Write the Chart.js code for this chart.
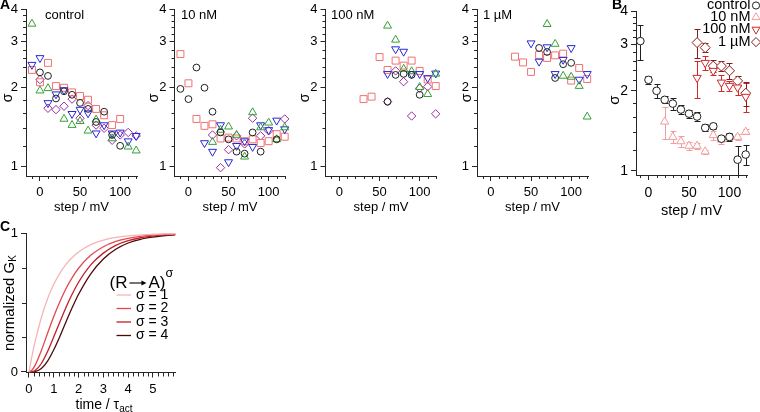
<!DOCTYPE html>
<html>
<head>
<meta charset="utf-8">
<script src="https://cdn.jsdelivr.net/npm/chart.js"></script>
<style>
html,body{margin:0;padding:0;background:#fff;}
#fig{position:relative;width:760px;height:412px;overflow:hidden;background:#fff;}
#fig canvas{position:absolute;left:0;top:0;}
</style>
</head>
<body>
<div id="fig">
<canvas id="pA1" width="760" height="412"></canvas>
<canvas id="pA2" width="760" height="412"></canvas>
<canvas id="pA3" width="760" height="412"></canvas>
<canvas id="pA4" width="760" height="412"></canvas>
<canvas id="pB" width="760" height="412"></canvas>
<canvas id="pC" width="760" height="412"></canvas>
</div>
<script>
// ---------------- DATA ----------------
const steps = [-10, 0, 10, 20, 30, 40, 50, 60, 70, 80, 90, 100, 110, 120];
const sigmaTicks = [1, 2, 3, 4];
const stepTicks = [0, 50, 100];
const panelTitles = ['control', '10 nM', '100 nM', '1 µM'];

// A: control (individual cells)
const ctrlCircle  = [null, 2.29, 2.22, 1.82, 1.94, 1.88, 1.75, 1.66, 1.48, 1.62, 1.32, 1.20, null, null];
const ctrlTriUp   = [3.51, 1.95, 1.99, null, 1.52, 1.44, 1.49, 1.37, 1.51, null, 1.28, null, 1.19, 1.15];
const ctrlTriDown = [2.45, 2.60, 1.75, 1.89, 1.96, 1.59, 1.65, 1.60, 1.34, 1.44, 1.34, 1.35, 1.25, 1.31];
const ctrlSquare  = [2.34, 2.10, 2.49, 2.03, 2.00, 1.92, 1.86, 1.80, 1.66, 1.57, 1.44, 1.52, null, null];
const ctrlDiamond = [null, 2.15, 1.67, 1.65, 1.70, 1.81, 1.53, 1.71, 1.44, 1.40, 1.26, 1.32, 1.35, 1.31];

// A: 10 nM
const nM10Circle  = [1.98, 1.81, 2.39, 2.00, 1.62, 1.35, 1.27, 1.14, 1.12, 1.35, 1.14, null, 1.27, null];
const nM10Square  = [2.69, 2.08, 1.52, 1.43, 1.45, 1.28, 1.29, 1.28, 1.25, 1.27, 1.23, 1.25, 1.33, 1.30];
const nM10TriUp   = [null, null, null, null, 1.24, 1.38, 1.42, 1.32, 1.09, 1.61, 1.41, 1.47, 1.27, 1.41];
const nM10TriDown = [null, null, null, 1.23, 1.14, 1.44, 1.04, 1.20, 1.25, 1.19, 1.44, 1.38, 1.50, 1.39];
const nM10Diamond = [null, null, null, null, 1.32, 0.99, 1.16, 1.31, 1.22, 1.53, 1.31, 1.37, null, 1.52];

// A: 100 nM
const nM100Circle  = [null, null, null, null, null, null, null, 1.77, 2.24, 2.26, 2.24, 1.88, null, null];
const nM100Square  = [null, null, null, null, 1.81, 1.85, 2.62, 2.34, 2.54, 2.43, 2.54, 2.32, 2.15, 2.03];
const nM100TriUp   = [null, null, null, null, null, null, null, 3.45, 3.05, 2.36, 2.31, 2.01, 1.89, 2.26];
const nM100TriDown = [null, null, null, null, null, null, null, 2.26, 2.81, 2.75, 2.26, 2.26, 2.18, 2.27];
const nM100Diamond = [null, null, null, null, null, null, null, 1.77, 2.32, 2.11, 1.56, 1.99, 2.02, 1.59];

// A: 1 µM
const uM1Circle  = [null, null, null, null, null, null, null, 2.84, 2.74, 2.18, 2.46, 2.49, null, null];
const uM1Square  = [null, null, null, null, 2.63, 2.50, 2.30, 2.67, 2.60, 2.66, 2.70, 2.13, 2.38, 2.16];
const uM1TriUp   = [null, null, null, null, null, null, null, null, 3.50, 2.94, 2.22, 2.20, 2.03, 1.55];
const uM1TriDown = [null, null, null, null, null, null, 2.96, 2.52, 2.86, 2.26, 2.56, 2.84, 2.15, 2.26];

// B: mean ± SEM
const bCtrlMean = [3.08, 2.20, 2.00, 1.85, 1.79, 1.70, 1.64, 1.60, 1.45, 1.47, 1.32, 1.34, 1.10, 1.15];
const bCtrlSem  = [0.47, 0.07, 0.12, 0.055, 0.095, 0.065, 0.055, 0.065, 0.045, 0.04, 0.025, 0.045, 0.135, 0.10];
const b10Mean   = [null, null, null, 1.53, 1.34, 1.29, 1.24, 1.24, 1.18, 1.36, 1.31, 1.34, 1.34, 1.40];
const b10Sem    = [null, null, null, 0.21, 0.07, 0.06, 0.04, 0.035, 0.02, 0.05, 0.055, 0.04, 0.04, 0.03];
const b100Mean  = [null, null, null, null, null, null, null, 2.24, 2.55, 2.38, 2.15, 2.09, 2.06, 1.90];
const b100Sem   = [null, null, null, null, null, null, null, 0.36, 0.15, 0.085, 0.15, 0.09, 0.125, 0.24];
const b1uMean   = [null, null, null, null, null, null, null, 3.04, 2.91, 2.48, 2.48, 2.38, 2.18, 1.96];
const b1uSem    = [null, null, null, null, null, null, null, 0.39, 0.11, 0.125, 0.11, 0.17, 0.095, 0.20];

// C: normalized G_K vs time / tau_act
const tAct    = [0, 0.125, 0.25, 0.5, 0.75, 1, 1.25, 1.5, 1.75, 2, 2.5, 3, 3.5, 4, 4.5, 5, 5.5, 5.9];
const gSigma1 = [0, 0.118, 0.221, 0.393, 0.528, 0.632, 0.713, 0.777, 0.826, 0.865, 0.918, 0.950, 0.970, 0.982, 0.989, 0.993, 0.996, 0.997];
const gSigma2 = [0, 0.014, 0.049, 0.155, 0.279, 0.400, 0.508, 0.604, 0.682, 0.748, 0.843, 0.903, 0.941, 0.964, 0.978, 0.987, 0.992, 0.995];
const gSigma3 = [0, 0.002, 0.011, 0.061, 0.147, 0.253, 0.362, 0.469, 0.564, 0.647, 0.774, 0.857, 0.913, 0.947, 0.968, 0.980, 0.988, 0.992];
const gSigma4 = [0, 0.000, 0.002, 0.024, 0.078, 0.160, 0.258, 0.364, 0.466, 0.560, 0.710, 0.815, 0.885, 0.930, 0.957, 0.973, 0.984, 0.989];
const cTimeTicks = [0, 1, 2, 3, 4, 5];
const cGTicks = [0, 1];
const sigmaLabels = ['σ = 1', 'σ = 2', 'σ = 3', 'σ = 4'];

// ---------------- STYLE ----------------
const W = 760, H = 412;
const AXIS = '#262626';
const FONT = "'Liberation Sans', Arial, Helvetica, sans-serif";
const f = (s, w) => (w ? w + ' ' : '') + s + 'px ' + FONT;
Chart.defaults.font.family = FONT;
Chart.defaults.color = '#000';

const COL = {
  black: '#1f1f1f', green: '#34a034', blue: '#2727d8', salmon: '#ef7272', purple: '#9b2e9b',
  ctrl: '#1f1f1f', nM10: '#f29c9c', nM100: '#d32828', uM1: '#8c1a1a',
  s1: '#f6b4b4', s2: '#e4484e', s3: '#c21e28', s4: '#4a0b0b'
};

const MARK = {
  circle:  {pointStyle: 'circle',   pointRadius: 3.4, pointRotation: 0},
  up:      {pointStyle: 'triangle', pointRadius: 4.6, pointRotation: 0},
  down:    {pointStyle: 'triangle', pointRadius: 4.6, pointRotation: 180},
  square:  {pointStyle: 'rect',     pointRadius: 4.9, pointRotation: 0},
  diamond: {pointStyle: 'rectRot',  pointRadius: 4.2, pointRotation: 0}
};

function pts(xs, ys, errs) {
  const out = [];
  xs.forEach((x, i) => {
    if (ys[i] != null) out.push(errs ? {x: x, y: ys[i], e: errs[i]} : {x: x, y: ys[i]});
  });
  return out;
}

function cellDs(label, ys, kind, color) {
  return Object.assign({
    label: label, data: pts(steps, ys), showLine: false, clip: false,
    borderColor: color, backgroundColor: 'rgba(0,0,0,0)',
    pointBorderColor: color, pointBackgroundColor: 'rgba(0,0,0,0)', pointBorderWidth: 1
  }, MARK[kind]);
}

function meanDs(label, ys, errs, kind, color, r) {
  return Object.assign({
    label: label, data: pts(steps, ys, errs), showLine: false, clip: false,
    borderColor: color, backgroundColor: '#fff',
    pointBorderColor: color, pointBackgroundColor: '#fff', pointBorderWidth: 1
  }, MARK[kind], {pointRadius: r});
}

// ---------------- PLUGINS ----------------
function minorTicksPlugin(mx, my, len) {
  return {
    id: 'minorTicks',
    afterDraw(chart) {
      const ctx = chart.ctx, xs = chart.scales.x, ys = chart.scales.y;
      ctx.save();
      ctx.strokeStyle = AXIS; ctx.lineWidth = 1;
      ctx.beginPath();
      (mx || []).forEach(v => {
        const p = Math.round(xs.getPixelForValue(v)) + 0.5;
        ctx.moveTo(p, ys.bottom); ctx.lineTo(p, ys.bottom + len);
      });
      (my || []).forEach(v => {
        const p = Math.round(ys.getPixelForValue(v)) + 0.5;
        ctx.moveTo(xs.left, p); ctx.lineTo(xs.left - len, p);
      });
      ctx.stroke();
      ctx.restore();
    }
  };
}

const errorBarsPlugin = {
  id: 'errorBars',
  beforeDatasetsDraw(chart) {
    const ctx = chart.ctx, xs = chart.scales.x, ys = chart.scales.y;
    chart.data.datasets.forEach(ds => {
      ctx.save();
      ctx.strokeStyle = ds.borderColor; ctx.lineWidth = 1;
      ctx.beginPath();
      ds.data.forEach(p => {
        if (p.e == null) return;
        const px = Math.round(xs.getPixelForValue(p.x)) + 0.5;
        const yt = Math.round(ys.getPixelForValue(p.y + p.e)) + 0.5;
        const yb = Math.round(ys.getPixelForValue(p.y - p.e)) + 0.5;
        ctx.moveTo(px, yt); ctx.lineTo(px, yb);
        ctx.moveTo(px - 3, yt); ctx.lineTo(px + 3, yt);
        ctx.moveTo(px - 3, yb); ctx.lineTo(px + 3, yb);
      });
      ctx.stroke();
      ctx.restore();
    });
  }
};

function drawMarker(ctx, kind, x, y, r, color) {
  ctx.save();
  ctx.strokeStyle = color; ctx.fillStyle = '#fff'; ctx.lineWidth = 1;
  ctx.beginPath();
  if (kind === 'circle') {
    ctx.arc(x, y, r, 0, Math.PI * 2);
  } else if (kind === 'up' || kind === 'down') {
    const s = kind === 'up' ? 1 : -1;
    for (let i = 0; i < 3; i++) {
      const a = i * 2 * Math.PI / 3;
      const px = x + Math.sin(a) * r, py = y - s * Math.cos(a) * r;
      if (i) ctx.lineTo(px, py); else ctx.moveTo(px, py);
    }
    ctx.closePath();
  } else if (kind === 'diamond') {
    ctx.moveTo(x, y - r); ctx.lineTo(x + r, y); ctx.lineTo(x, y + r); ctx.lineTo(x - r, y);
    ctx.closePath();
  }
  ctx.fill(); ctx.stroke();
  ctx.restore();
}

function overlayPlugin(items) {
  return {
    id: 'overlay',
    afterDraw(chart) {
      const ctx = chart.ctx;
      items.forEach(it => {
        if (it.type === 'line') {
          ctx.save();
          ctx.strokeStyle = it.color; ctx.lineWidth = it.width || 1;
          ctx.beginPath(); ctx.moveTo(it.x1, it.y); ctx.lineTo(it.x2, it.y); ctx.stroke();
          ctx.restore();
          return;
        }
        if (it.type === 'marker') {
          drawMarker(ctx, it.kind, it.x, it.y, it.r, it.color);
          return;
        }
        ctx.save();
        ctx.translate(it.x, it.y);
        if (it.rot) ctx.rotate(it.rot);
        ctx.textBaseline = 'middle';
        ctx.textAlign = 'left';
        const widths = it.parts.map(p => {
          if (p.arrow) return p.arrow;
          ctx.font = p.font; return ctx.measureText(p.t).width;
        });
        const total = widths.reduce((a, b) => a + b, 0);
        let x = it.align === 'center' ? -total / 2 : (it.align === 'right' ? -total : 0);
        it.parts.forEach((p, i) => {
          if (p.arrow) {
            const x1 = x + 2, x2 = x + p.arrow - 2, yy = (p.dy || 0);
            ctx.strokeStyle = '#000'; ctx.fillStyle = '#000'; ctx.lineWidth = 1.1;
            ctx.beginPath(); ctx.moveTo(x1, yy); ctx.lineTo(x2 - 3, yy); ctx.stroke();
            ctx.beginPath(); ctx.moveTo(x2, yy); ctx.lineTo(x2 - 5, yy - 2.6); ctx.lineTo(x2 - 5, yy + 2.6); ctx.closePath(); ctx.fill();
          } else {
            ctx.font = p.font; ctx.fillStyle = p.color || '#000';
            ctx.fillText(p.t, x, p.dy || 0);
          }
          x += widths[i];
        });
        ctx.restore();
      });
    }
  };
}

// ---------------- CHART BUILDER ----------------
function axisCommon(tickSize, pad) {
  return {
    grid: {display: true, drawOnChartArea: false, drawTicks: true, tickLength: 5, tickWidth: 1, tickColor: AXIS, color: AXIS},
    border: {display: true, color: AXIS, width: 1},
    ticks: {font: {size: tickSize}, color: '#000', padding: pad, maxRotation: 0, minRotation: 0, autoSkip: false, callback: v => String(v)}
  };
}

function buildChart(id, spec) {
  const area = spec.area, xH = spec.xH, yW = 20;
  const xAxis = Object.assign(axisCommon(spec.tickSize, spec.xPad), {
    type: 'linear', position: 'bottom', min: spec.x.min, max: spec.x.max,
    afterBuildTicks: s => { s.ticks = spec.x.ticks.map(v => ({value: v})); },
    afterFit: s => { s.height = xH; s.paddingLeft = 0; s.paddingRight = 0; },
    title: spec.xTitle ? {display: true, text: spec.xTitle, font: {size: spec.titleSize}, color: '#000', padding: 0} : {display: false}
  });
  const yAxis = Object.assign(axisCommon(spec.tickSize, 3), {
    type: spec.y.type, position: 'left', min: spec.y.min, max: spec.y.max,
    afterBuildTicks: s => { s.ticks = spec.y.ticks.map(v => ({value: v})); },
    afterFit: s => { s.width = yW; s.paddingTop = 0; s.paddingBottom = 0; }
  });
  return new Chart(document.getElementById(id), {
    type: spec.type || 'scatter',
    data: {datasets: spec.datasets},
    options: {
      responsive: false, maintainAspectRatio: false, animation: false, events: [],
      layout: {padding: {left: area.l - yW, top: area.t, right: W - area.r, bottom: H - area.b - xH}},
      plugins: {legend: {display: false}, tooltip: {enabled: false}, title: {display: false}},
      scales: {x: xAxis, y: yAxis}
    },
    plugins: [minorTicksPlugin(spec.minorX, spec.minorY, spec.minorLen || 3), errorBarsPlugin, overlayPlugin(spec.overlay || [])]
  });
}

// minor tick positions (axis decoration only)
const minorStepX = [];
for (let v = -10; v <= 120; v += 10) if (v % 50 !== 0) minorStepX.push(v);
const minorSigmaY = [];
for (let k = 6; k <= 19; k++) { const v = k / 5; if (k % 5 !== 0) minorSigmaY.push(v); }
const minorTimeX = [];
for (let k = 1; k <= 29; k++) if (k % 5 !== 0) minorTimeX.push(k / 5);

// ---------------- PANEL A ----------------
const aPanels = [
  {id: 'pA1', l: 26,    r: 137,   title: panelTitles[0], tx: 45,  sx: 8.3, letter: 'A',
   ds: [cellDs('c1', ctrlCircle, 'circle', COL.black), cellDs('c2', ctrlTriUp, 'up', COL.green),
        cellDs('c3', ctrlTriDown, 'down', COL.blue), cellDs('c4', ctrlSquare, 'square', COL.salmon),
        cellDs('c5', ctrlDiamond, 'diamond', COL.purple)]},
  {id: 'pA2', l: 174.5, r: 285.5, title: panelTitles[1], tx: 181, sx: 154,
   ds: [cellDs('c1', nM10Circle, 'circle', COL.black), cellDs('c2', nM10TriUp, 'up', COL.green),
        cellDs('c3', nM10TriDown, 'down', COL.blue), cellDs('c4', nM10Square, 'square', COL.salmon),
        cellDs('c5', nM10Diamond, 'diamond', COL.purple)]},
  {id: 'pA3', l: 325.5, r: 436.5, title: panelTitles[2], tx: 331, sx: 305,
   ds: [cellDs('c1', nM100Circle, 'circle', COL.black), cellDs('c2', nM100TriUp, 'up', COL.green),
        cellDs('c3', nM100TriDown, 'down', COL.blue), cellDs('c4', nM100Square, 'square', COL.salmon),
        cellDs('c5', nM100Diamond, 'diamond', COL.purple)]},
  {id: 'pA4', l: 477,   r: 588,   title: panelTitles[3], tx: 483, sx: 467.3,
   ds: [cellDs('c1', uM1Circle, 'circle', COL.black), cellDs('c2', uM1TriUp, 'up', COL.green),
        cellDs('c3', uM1TriDown, 'down', COL.blue), cellDs('c4', uM1Square, 'square', COL.salmon)]}
];

aPanels.forEach(p => {
  const overlay = [
    {x: p.tx, y: 15.5, parts: [{t: p.title, font: f(13)}]},
    {x: p.sx, y: 98, rot: -Math.PI / 2, align: 'center', parts: [{t: 'σ', font: f(14)}]}
  ];
  if (p.letter) overlay.push({x: 0, y: 5, parts: [{t: p.letter, font: f(14, 'bold')}]});
  buildChart(p.id, {
    area: {l: p.l, r: p.r, t: 9, b: 176}, xH: 38.8, xPad: 3.9, tickSize: 13, titleSize: 13,
    x: {min: -17.4, max: 121, ticks: stepTicks},
    y: {type: 'logarithmic', min: 0.92, max: 4, ticks: sigmaTicks},
    xTitle: 'step / mV',
    minorX: minorStepX, minorY: minorSigmaY,
    datasets: p.ds, overlay: overlay
  });
});

// ---------------- PANEL B ----------------
const bLegendRows = [
  {t: 'control', kind: 'circle', color: COL.ctrl, r: 3.6, y: 5},
  {t: '10 nM',   kind: 'up',     color: COL.nM10, r: 4.6, y: 16.8},
  {t: '100 nM',  kind: 'down',   color: COL.nM100, r: 4.6, y: 29},
  {t: '1 µM',    kind: 'diamond', color: COL.uM1, r: 4.6, y: 41.6}
];
const bOverlay = [
  {x: 612, y: 5, parts: [{t: 'B', font: f(14, 'bold')}]},
  {x: 615, y: 100, rot: -Math.PI / 2, align: 'center', parts: [{t: 'σ', font: f(15)}]}
];
bLegendRows.forEach(r => {
  bOverlay.push({x: 750.5, y: r.y, align: 'right', parts: [{t: r.t, font: f(14.5)}]});
  bOverlay.push({type: 'marker', kind: r.kind, x: 756, y: r.y + 0.5, r: r.r, color: r.color});
});
buildChart('pB', {
  area: {l: 636, r: 747, t: 11, b: 175}, xH: 45.1, xPad: 4.3, tickSize: 14, titleSize: 14.5,
  x: {min: -15.4, max: 121.6, ticks: stepTicks},
  y: {type: 'logarithmic', min: 0.963, max: 4, ticks: sigmaTicks},
  xTitle: 'step / mV',
  minorX: minorStepX, minorY: minorSigmaY,
  datasets: [
    meanDs('control', bCtrlMean, bCtrlSem, 'circle', COL.ctrl, 3.8),
    meanDs('10 nM', b10Mean, b10Sem, 'up', COL.nM10, 4.8),
    meanDs('100 nM', b100Mean, b100Sem, 'down', COL.nM100, 4.8),
    meanDs('1 µM', b1uMean, b1uSem, 'diamond', COL.uM1, 5.0)
  ],
  overlay: bOverlay
});

// ---------------- PANEL C ----------------
const cSeries = [gSigma1, gSigma2, gSigma3, gSigma4];
const cColors = [COL.s1, COL.s2, COL.s3, COL.s4];
const cDatasets = cSeries.map((g, i) => ({
  label: sigmaLabels[i], data: pts(tAct, g), showLine: true, borderColor: cColors[i], borderWidth: 1.3,
  pointRadius: 0, fill: false, cubicInterpolationMode: 'monotone', clip: false
}));
const cOverlay = [
  {x: 0, y: 227.5, parts: [{t: 'C', font: f(14, 'bold')}]},
  {x: 9.5, y: 303, rot: -Math.PI / 2, align: 'center', parts: [{t: 'normalized G', font: f(15)}, {t: 'K', font: f(10), dy: 4}]},
  {x: 104, y: 405, align: 'center', parts: [{t: 'time / τ', font: f(14)}, {t: 'act', font: f(10), dy: 4}]},
  {x: 109.5, y: 283, parts: [{t: '(R', font: f(17)}, {arrow: 21}, {t: 'A)', font: f(17)}, {t: 'σ', font: f(12.5), dy: -9}]}
];
const cRowY = [295, 308.5, 322, 335.5];
sigmaLabels.forEach((s, i) => {
  cOverlay.push({type: 'line', x1: 116.5, x2: 131, y: cRowY[i], color: cColors[i], width: 1.3});
  cOverlay.push({x: 136, y: cRowY[i], parts: [{t: s, font: f(14)}]});
});
buildChart('pC', {
  type: 'line',
  area: {l: 26, r: 175, t: 233.3, b: 372.5}, xH: 30, xPad: 4, tickSize: 13,
  x: {min: -0.12, max: 5.89, ticks: cTimeTicks},
  y: {type: 'linear', min: -0.004, max: 1, ticks: cGTicks},
  minorX: minorTimeX, minorY: [0.25, 0.5, 0.75], minorLen: 4,
  datasets: cDatasets, overlay: cOverlay
});
</script>
</body>
</html>
